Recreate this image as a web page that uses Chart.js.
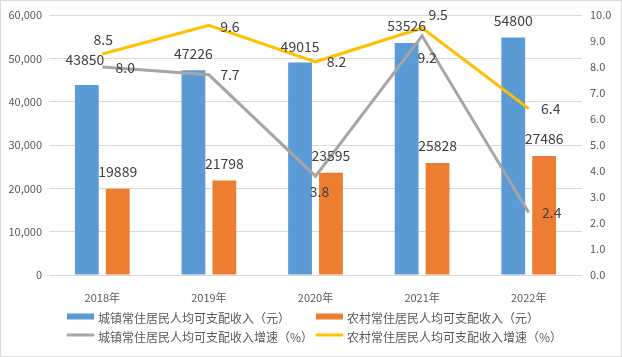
<!DOCTYPE html>
<html>
<head>
<meta charset="utf-8">
<script src="https://cdn.jsdelivr.net/npm/chart.js@4/dist/chart.umd.min.js"></script>
<style>
  html, body { margin: 0; padding: 0; background: #ffffff; }
  canvas { display: block; }
</style>
</head>
<body>
<canvas id="c" width="622" height="357"></canvas>
<script>
// ---- data ----
const categories = ['2018年', '2019年', '2020年', '2021年', '2022年'];
const urbanIncome = [43850, 47226, 49015, 53526, 54800];
const ruralIncome = [19889, 21798, 23595, 25828, 27486];
const urbanGrowth = [8.0, 7.7, 3.8, 9.2, 2.4];
const ruralGrowth = [8.5, 9.6, 8.2, 9.5, 6.4];
const seriesNames = [
  '城镇常住居民人均可支配收入（元）',
  '农村常住居民人均可支配收入（元）',
  '城镇常住居民人均可支配收入增速（%）',
  '农村常住居民人均可支配收入增速（%）'
];

// ---- label placement (style, not data) ----
const urbanLabelOffset = [[-2, -25], [0, -17], [0, -16], [0, -17], [0, -17]];
const ruralLabelOffset = [[0, -17], [0, -17], [0, -17], [0, -17], [0, -17]];
const urbanGrowthLabelOffset = [[23, 1], [21, 0], [4, 15], [5, 22], [23, 0]];
const ruralGrowthLabelOffset = [[1, -14], [21, 1], [21, 0], [16, -13], [22, 0]];

const FONT = "'Noto Sans CJK SC', 'DejaVu Sans', sans-serif";

const dataLabelPlugin = {
  id: 'dataLabels',
  afterDatasetsDraw(chart) {
    const ctx = chart.ctx;
    ctx.save();
    ctx.font = '14px ' + FONT;
    ctx.fillStyle = '#404040';
    ctx.textAlign = 'center';
    ctx.textBaseline = 'middle';
    chart.data.datasets.forEach((ds, di) => {
      const meta = chart.getDatasetMeta(di);
      meta.data.forEach((el, i) => {
        const v = ds.data[i];
        const txt = ds.decimals ? v.toFixed(ds.decimals) : String(v);
        const off = ds.labelOffset[i];
        ctx.fillText(txt, el.x + off[0], el.y + off[1]);
      });
    });
    ctx.restore();
  }
};

const legendPlugin = {
  id: 'customLegend',
  afterDraw(chart) {
    const ctx = chart.ctx;
    ctx.save();
    const cols = [67, 316];
    const rows = [318, 337];
    ctx.font = '12px ' + FONT;
    ctx.textBaseline = 'middle';
    ctx.textAlign = 'left';
    chart.data.datasets.forEach((ds, di) => {
      const x = cols[di % 2];
      const y = rows[Math.floor(di / 2)];
      if (ds.type === 'bar') {
        ctx.fillStyle = ds.backgroundColor;
        ctx.fillRect(x, y - 4.5, 27, 6);
      } else {
        ctx.strokeStyle = ds.borderColor;
        ctx.lineWidth = 3;
        ctx.lineCap = 'round';
        ctx.beginPath();
        ctx.moveTo(x + 1, y - 2);
        ctx.lineTo(x + 26, y - 2);
        ctx.stroke();
      }
      ctx.fillStyle = '#595959';
      ctx.fillText(ds.label, x + 31, y);
    });
    // outer border
    ctx.strokeStyle = '#d9d9d9';
    ctx.lineWidth = 1;
    ctx.strokeRect(0.5, 0.5, 621, 356);
    ctx.restore();
  }
};

new Chart(document.getElementById('c'), {
  data: {
    labels: categories,
    datasets: [
      {
        type: 'bar', label: seriesNames[0], data: urbanIncome, yAxisID: 'y',
        backgroundColor: '#5b9bd5', order: 2, labelOffset: urbanLabelOffset
      },
      {
        type: 'bar', label: seriesNames[1], data: ruralIncome, yAxisID: 'y',
        backgroundColor: '#ed7d31', order: 2, labelOffset: ruralLabelOffset
      },
      {
        type: 'line', label: seriesNames[2], data: urbanGrowth, yAxisID: 'y1',
        borderColor: '#a5a5a5', backgroundColor: '#a5a5a5', borderWidth: 3,
        pointRadius: 0, tension: 0, order: 1, decimals: 1, labelOffset: urbanGrowthLabelOffset
      },
      {
        type: 'line', label: seriesNames[3], data: ruralGrowth, yAxisID: 'y1',
        borderColor: '#ffc000', backgroundColor: '#ffc000', borderWidth: 3,
        pointRadius: 0, tension: 0, order: 1, decimals: 1, labelOffset: ruralGrowthLabelOffset
      }
    ]
  },
  options: {
    responsive: false,
    animation: false,
    devicePixelRatio: 1,
    layout: { padding: { top: 15, left: 0, right: 0, bottom: 0 } },
    datasets: {
      bar: { categoryPercentage: 0.58, barPercentage: 0.77 }
    },
    plugins: {
      legend: { display: false },
      tooltip: { enabled: false }
    },
    scales: {
      x: {
        grid: { display: false },
        border: { display: false },
        ticks: { color: '#595959', font: { size: 11, family: FONT }, padding: 8 },
        afterFit(s) { s.height = 82; }
      },
      y: {
        position: 'left',
        min: 0, max: 60000,
        grid: { color: '#d9d9d9', drawTicks: false },
        border: { display: false },
        ticks: { stepSize: 10000, color: '#595959', font: { size: 11, family: FONT }, padding: 7 },
        afterFit(s) { s.width = 49; }
      },
      y1: {
        position: 'right',
        min: 0, max: 10,
        grid: { drawOnChartArea: false, drawTicks: false },
        border: { display: false },
        ticks: {
          stepSize: 1, color: '#595959', font: { size: 11, family: FONT }, padding: 8,
          callback: v => v.toFixed(1)
        },
        afterFit(s) { s.width = 40; }
      }
    }
  },
  plugins: [dataLabelPlugin, legendPlugin]
});
</script>
</body>
</html>
